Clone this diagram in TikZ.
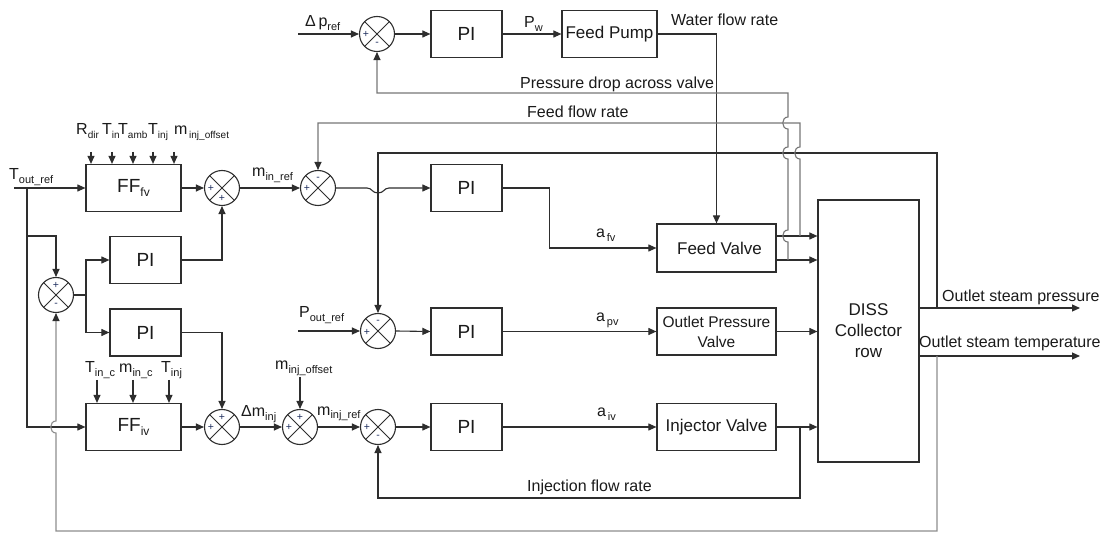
\documentclass[tikz,border=0pt]{standalone}
\usepackage{fontspec}
\setmainfont{Liberation Sans}
\usetikzlibrary{arrows.meta,calc}
\definecolor{lc}{HTML}{2E2E2E}
\definecolor{fc}{HTML}{777777}
\definecolor{fc2}{HTML}{8E8E8E}
\definecolor{tc}{HTML}{1A1A1A}
\definecolor{sc}{HTML}{1F2F5F}
\newcommand{\myfs}[1]{\fontsize{#1}{#1}\selectfont}
\newcommand{\vx}[2]{{\myfs{16}#1}\raisebox{-3.5pt}{\myfs{11}#2}}
\newcommand{\vxs}[2]{{\myfs{16}#1}\raisebox{-3.5pt}{\myfs{10}#2}}
\begin{document}
\begin{tikzpicture}[x=1pt,y=-1pt,
 blk/.style={draw=lc, line width=1.2pt, inner sep=0pt, text=tc, font=\myfs{17}, minimum width=119pt, minimum height=47pt, align=center},
 pib/.style={blk, minimum width=71pt, font=\myfs{19}},
 ffb/.style={blk, minimum width=95pt, font=\myfs{19}},
 sumj/.style={circle, draw=lc, fill=white, line width=1.1pt, minimum size=35pt, inner sep=0pt,
   path picture={\draw[lc, line width=0.9pt] (path picture bounding box.north west) -- (path picture bounding box.south east) (path picture bounding box.north east) -- (path picture bounding box.south west);}},
 con/.style={draw=lc, line width=1.1pt},
 arr/.style={con, -{Triangle[length=8pt,width=7pt]}},
 fbarr/.style={draw=fc, line width=1.1pt, -{Triangle[length=8pt,width=7pt,color=lc]}},
 fbarr2/.style={draw=fc2, line width=1.1pt, -{Triangle[length=8pt,width=7pt,color=lc]}},
 sg/.style={font=\myfs{10.5}, inner sep=0pt, text=sc},
 lbl/.style={font=\myfs{16}, inner sep=0pt, text=tc, anchor=base west},
]
\useasboundingbox[fill=white] (0,0) rectangle (1103,534);

% ---------- blocks ----------
\node[sumj] (s1) at (377,34) {};
\node[pib] (pi1) at (466.5,34) {PI};
\node[blk, minimum width=95pt] (fp) at (609.5,34) {Feed Pump};
\node[ffb] (fff) at (133.5,188) {FF\raisebox{-4pt}{\myfs{12}fv}};
\node[sumj] (s2) at (222,188) {};
\node[sumj] (s3) at (318,188) {};
\node[pib] (pi2) at (466.5,188) {PI};
\node[blk, minimum height=48pt] (fv) at (716.5,248) {\hspace*{6pt}Feed Valve};
\node[sumj] (s4) at (56,295) {};
\node[pib] (pil1) at (145.5,260) {PI};
\node[pib] (pil2) at (145.5,332.5) {PI};
\node[sumj] (s8) at (378,331) {};
\node[pib] (pi3) at (466.5,331.5) {PI};
\node[blk, font=\fontsize{15.5}{20}\selectfont] (opv) at (716.5,331.5) {Outlet Pressure\\Valve};
\node[draw=lc, line width=1.2pt, inner sep=0pt, minimum width=101pt, minimum height=262pt, align=center, text=tc, font=\fontsize{17}{21}\selectfont] (diss) at (868.5,331) {DISS\\Collector\\row};
\node[ffb] (ffi) at (133.5,427) {FF\raisebox{-4pt}{\myfs{12}iv}};
\node[sumj] (s5) at (222,427) {};
\node[sumj] (s6) at (300,427) {};
\node[sumj] (s7) at (378,427) {};
\node[pib] (pi4) at (466.5,427) {PI};
\node[blk] (iv) at (716.5,427) {Injector Valve};

% ---------- signs ----------
\node[sg] (g1a) at ($(s1)+(-11,0)$) {+};
\node[sg] (g1b) at ($(s1)+(0,10)$) {-};
\node[sg] (g2a) at ($(s2)+(-11,0)$) {+};
\node[sg] (g2b) at ($(s2)+(0,10)$) {+};
\node[sg] (g3a) at ($(s3)+(-11,0)$) {+};
\node[sg] (g3b) at ($(s3)+(0,-9)$) {-};
\node[sg] (g4a) at ($(s4)+(0,-10)$) {+};
\node[sg] (g4b) at ($(s4)+(0,10)$) {-};
\node[sg] (g8a) at ($(s8)+(-11,1)$) {+};
\node[sg] (g8b) at ($(s8)+(0,-9)$) {-};
\node[sg] (g5a) at ($(s5)+(-11,0)$) {+};
\node[sg] (g5b) at ($(s5)+(0,-10)$) {+};
\node[sg] (g6a) at ($(s6)+(-11,0)$) {+};
\node[sg] (g6b) at ($(s6)+(0,-10)$) {+};
\node[sg] (g7a) at ($(s7)+(-11,0)$) {+};
\node[sg] (g7b) at ($(s7)+(0,10)$) {-};

% ---------- coordinates ----------
\coordinate (dp) at (298,34);
\coordinate (po) at (298,331);
\coordinate (tin) at (14,188);
\coordinate (jl) at (27,188);
\coordinate (jl2) at (27,236);
\coordinate (jb) at (86,295);
\coordinate (jd) at (788,260);
\coordinate (jf) at (800,236);
\coordinate (ji) at (800,427);
\coordinate (jp) at (937,308);
\coordinate (jt) at (937,356);
\coordinate (op) at (1080,308);
\coordinate (ot) at (1080,356);
\coordinate (fvo1) at (776,236);
\coordinate (fvo2) at (776,260);
\coordinate (mo) at (300,377);
\coordinate (a1) at (91,152);
\coordinate (a2) at (112,152);
\coordinate (a3) at (133,152);
\coordinate (a4) at (153,152);
\coordinate (a5) at (174,152);
\coordinate (b1) at (97,380);
\coordinate (b2) at (133,380);
\coordinate (b3) at (169,380);

% ---------- top loop ----------
\draw[arr] (dp) -- (s1.west);
\draw[arr] (s1.east) -- (pi1.west);
\draw[arr] (pi1.east) -- (fp.west);
\draw[arr] (fp.east) -| (fv.north);

% ---------- feedforward fv ----------
\draw[arr] (tin) -- (fff.west);
\foreach \a in {a1,a2,a3,a4,a5} \draw[arr] (\a) -- (\a |- fff.north);
\draw[arr] (fff.east) -- (s2.west);
\draw[arr] (s2.east) -- (s3.west);
\draw[arr] (s3.east) -- (367,188) .. controls (372,188) and (372,193) .. (378,193) .. controls (384,193) and (384,188) .. (389,188) -- (pi2.west);
\draw[arr] (pi2.east) -- ++(47,0) |- (fv.west);

% ---------- left temperature loop ----------
\draw[arr] (jl) |- (ffi.west);
\draw[arr] (jl2) -| (s4.north);
\draw[con] (s4.east) -- (jb);
\draw[arr] (jb) |- (pil1.west);
\draw[arr] (jb) |- (pil2.west);
\draw[arr] (pil1.east) -| (s2.south);
\draw[arr] (pil2.east) -| (s5.north);
\foreach \b in {b1,b2,b3} \draw[arr] (\b) -- (\b |- ffi.north);
\draw[arr] (ffi.east) -- (s5.west);
\draw[arr] (s5.east) -- (s6.west);
\draw[arr] (mo) -- (s6.north);
\draw[arr] (s6.east) -- (s7.west);
\draw[arr] (s7.east) -- (pi4.west);
\draw[arr] (pi4.east) -- (iv.west);
\draw[arr] (iv.east) -- (iv.east -| diss.west);
\draw[arr] (ji) -- (800,498) -| (s7.south);

% ---------- pressure loop ----------
\draw[arr] (po) -- (s8.west);
\draw[arr] (s8.east) -- (pi3.west);
\draw[arr] (pi3.east) -- (opv.west);
\draw[arr] (opv.east) -- (opv.east -| diss.west);

% ---------- feed valve outputs ----------
\draw[arr] (fvo1) -- (fvo1 -| diss.west);
\draw[arr] (fvo2) -- (fvo2 -| diss.west);

% ---------- DISS outputs ----------
\draw[arr] (diss.east |- jp) -- (op);
\draw[arr] (diss.east |- jt) -- (ot);
\draw[arr] (jp) -- (937,153) -| (s8.north);

% ---------- feedback lines ----------
\draw[fbarr] (jd) -- (788,242) .. controls (781,242) and (781,230) .. (788,230) -- (788,159) .. controls (781,159) and (781,147) .. (788,147) -- (788,129) .. controls (781,129) and (781,117) .. (788,117) -- (788,93) -| (s1.south);
\draw[fbarr] (jf) -- (800,159) .. controls (793,159) and (793,147) .. (800,147) -- (800,123) -| (s3.north);
\draw[fbarr2] (jt) -- (937,531) -- (56,531) -- (56,433) .. controls (49,433) and (49,421) .. (56,421) -- (s4.south);

% ---------- labels ----------
\node[lbl] (l1) at (305,27) {Δ\,p\raisebox{-3.5pt}{\myfs{11}ref}};
\node[lbl] (l2) at (524,28) {\vx{P}{w}};
\node[lbl] (l3) at (671,26) {Water flow rate};
\node[lbl] (l4) at (520,89) {Pressure drop across valve};
\node[lbl] (l5) at (527,118) {Feed flow rate};
\node[lbl] (l6) at (76,135) {\vxs{R}{dir}};
\node[lbl] (l7) at (102,135) {\vxs{T}{in}};
\node[lbl] (l8) at (118,135) {\vxs{T}{amb}};
\node[lbl] (l9) at (148,135) {\vxs{T}{inj}};
\node[lbl] (l10) at (174,135) {\vxs{m}{\,inj\_offset}};
\node[lbl] (l11) at (9,180) {\vx{T}{out\_ref}};
\node[lbl] (l12) at (252,177) {\vx{m}{in\_ref}};
\node[lbl] (l13) at (596,238) {\vx{a}{\,fv}};
\node[lbl] (l14) at (299,318) {\vx{P}{out\_ref}};
\node[lbl] (l15) at (596,322) {\vx{a}{\,pv}};
\node[lbl] (l16) at (85,373) {\vx{T}{in\_c}};
\node[lbl] (l17) at (119,373) {\vx{m}{in\_c}};
\node[lbl] (l18) at (161,373) {\vx{T}{inj}};
\node[lbl] (l19) at (275,370) {\vx{m}{inj\_offset}};
\node[lbl] (l20) at (241,417) {\vx{Δm}{inj}};
\node[lbl] (l21) at (317,415) {\vx{m}{inj\_ref}};
\node[lbl] (l22) at (597,417) {\vx{a}{\,iv}};
\node[lbl] (l23) at (527,491) {Injection flow rate};
\node[lbl] (l24) at (942,302) {Outlet steam pressure};
\node[lbl] (l25) at (919,348) {Outlet steam temperature};
\end{tikzpicture}
\end{document}
